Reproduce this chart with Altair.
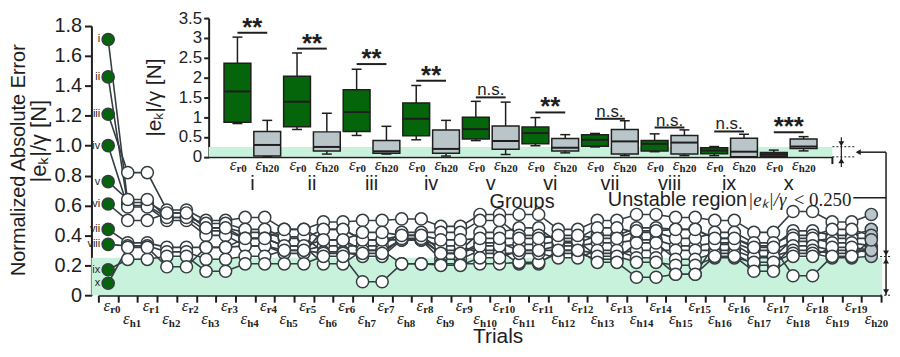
import altair as alt
import pandas as pd

# ---------------- data: main trial plot ----------------
groups = ["i", "ii", "iii", "iv", "v", "vi", "vii", "viii", "ix", "x"]
r0_values = [1.71, 1.46, 1.21, 1.00, 0.76, 0.61, 0.44, 0.34, 0.17, 0.08]

trials_i    = [0.62, 0.55, 0.45, 0.42, 0.38, 0.44, 0.37, 0.40, 0.30, 0.42, 0.45, 0.35, 0.40, 0.45, 0.44, 0.38, 0.33, 0.43, 0.40, 0.44]
trials_ii   = [0.60, 0.52, 0.43, 0.38, 0.33, 0.37, 0.30, 0.37, 0.28, 0.35, 0.30, 0.33, 0.35, 0.37, 0.33, 0.35, 0.30, 0.36, 0.38, 0.38]
trials_iii  = [0.82, 0.57, 0.50, 0.52, 0.44, 0.49, 0.50, 0.51, 0.46, 0.54, 0.54, 0.44, 0.50, 0.54, 0.52, 0.50, 0.42, 0.56, 0.49, 0.54]
trials_iv   = [0.59, 0.50, 0.40, 0.33, 0.30, 0.33, 0.33, 0.42, 0.42, 0.50, 0.40, 0.38, 0.45, 0.42, 0.38, 0.42, 0.35, 0.40, 0.44, 0.40]
trials_v    = [0.64, 0.52, 0.48, 0.44, 0.39, 0.29, 0.26, 0.37, 0.24, 0.30, 0.21, 0.30, 0.28, 0.30, 0.30, 0.30, 0.25, 0.38, 0.35, 0.33]
trials_vi   = [0.50, 0.55, 0.45, 0.38, 0.33, 0.21, 0.30, 0.21, 0.21, 0.21, 0.22, 0.28, 0.24, 0.35, 0.24, 0.28, 0.20, 0.33, 0.30, 0.29]
trials_vii  = [0.35, 0.32, 0.32, 0.33, 0.28, 0.44, 0.37, 0.37, 0.33, 0.28, 0.28, 0.25, 0.30, 0.25, 0.14, 0.34, 0.26, 0.30, 0.28, 0.31]
trials_viii = [0.33, 0.29, 0.24, 0.26, 0.30, 0.28, 0.28, 0.38, 0.28, 0.33, 0.34, 0.36, 0.26, 0.22, 0.20, 0.25, 0.22, 0.28, 0.25, 0.26]
trials_ix   = [0.24, 0.26, 0.16, 0.21, 0.21, 0.26, 0.09, 0.21, 0.20, 0.25, 0.30, 0.30, 0.22, 0.12, 0.14, 0.26, 0.16, 0.26, 0.32, 0.30]
trials_x    = [0.32, 0.19, 0.32, 0.38, 0.44, 0.37, 0.42, 0.40, 0.37, 0.38, 0.38, 0.40, 0.38, 0.43, 0.44, 0.38, 0.32, 0.13, 0.26, 0.37]

y_ticks_main = [0, 0.2, 0.4, 0.6, 0.8, 1.0, 1.2, 1.4, 1.6, 1.8]

# ---------------- data: inset box plots ----------------
r0_min = [0.84, 0.69, 0.54, 0.43, 0.41, 0.28, 0.25, 0.13, 0.03, 0.00]
r0_q1  = [0.87, 0.76, 0.64, 0.53, 0.45, 0.33, 0.27, 0.15, 0.08, 0.00]
r0_med = [1.65, 1.39, 1.13, 0.96, 0.70, 0.60, 0.43, 0.33, 0.16, 0.06]
r0_q3  = [2.36, 2.03, 1.69, 1.36, 1.00, 0.75, 0.56, 0.41, 0.23, 0.11]
r0_max = [3.02, 2.62, 2.21, 1.80, 1.40, 0.99, 0.59, 0.58, 0.26, 0.17]

h20_min = [0.00, 0.07, 0.07, 0.02, 0.06, 0.10, 0.03, 0.03, 0.00, 0.15]
h20_q1  = [0.02, 0.15, 0.09, 0.09, 0.19, 0.15, 0.07, 0.07, 0.00, 0.21]
h20_med = [0.30, 0.25, 0.14, 0.20, 0.40, 0.23, 0.39, 0.36, 0.13, 0.26]
h20_q3  = [0.64, 0.63, 0.41, 0.68, 0.78, 0.46, 0.69, 0.54, 0.47, 0.45]
h20_max = [0.92, 1.10, 0.77, 0.92, 1.38, 0.56, 0.91, 0.68, 0.57, 0.51]

sig_y    = [3.13, 2.73, 2.34, 1.92, 1.50, 1.12, 0.96, 0.74, 0.64, 0.62]
sig_text = ["**", "**", "**", "**", "n.s.", "**", "n.s.", "n.s.", "n.s.", "***"]

y_ticks_inset = [0, 0.5, 1, 1.5, 2, 2.5, 3, 3.5]
threshold = 0.25

# ---------------- styling ----------------
GREEN = "#04650b"
GREY = "#b9c5c9"
MINT = "#c9f2dd"
DARK = "#1e1e1e"
LINEC = "#343d41"
SANS = "Liberation Sans"
SERIF = "Liberation Serif"

W, H = 796, 271

# ---------------- build tables ----------------
series = dict(zip(groups, [trials_i, trials_ii, trials_iii, trials_iv, trials_v,
                           trials_vi, trials_vii, trials_viii, trials_ix, trials_x]))

slots = ["r0"]
for k in range(1, 20):
    slots += [f"h{k}", f"r{k}"]
slots += ["h20"]

rows = []
for g, r0 in zip(groups, r0_values):
    vals = series[g]
    rows.append(dict(group=g, slot="r0", idx=0, val=r0, fillc=GREEN))
    for k in range(1, 21):
        rows.append(dict(group=g, slot=f"h{k}", idx=2 * k - 1, val=vals[k - 1],
                         fillc=GREY if k == 20 else "white"))
        if k < 20:
            rows.append(dict(group=g, slot=f"r{k}", idx=2 * k, val=vals[k - 1], fillc="white"))
main_df = pd.DataFrame(rows)

lab_df = pd.DataFrame({"slot": slots, "eps": ["ε"] * len(slots), "sub": slots})
lab_df["row"] = lab_df["sub"].str[0]
lab_df["n"] = lab_df["sub"].str.len()

bslots, brows = [], []
for i, g in enumerate(groups):
    for kind, mn, q1, md, q3, mx, fc in (
        ("r0", r0_min[i], r0_q1[i], r0_med[i], r0_q3[i], r0_max[i], GREEN),
        ("h20", h20_min[i], h20_q1[i], h20_med[i], h20_q3[i], h20_max[i], GREY),
    ):
        bs = f"{g}-{kind}"
        bslots.append(bs)
        brows.append(dict(group=g, kind=kind, bslot=bs, bmin=mn, q1=q1, med=md,
                          q3=q3, bmax=mx, fillc=fc, eps="ε", sub=kind))
box_df = pd.DataFrame(brows)

sig_rows = []
for i, g in enumerate(groups):
    for kind in ("r0", "h20"):
        sig_rows.append(dict(group=g, bslot=f"{g}-{kind}", sy=sig_y[i], stext=sig_text[i], kind=kind))
sig_df = pd.DataFrame(sig_rows)

one = pd.DataFrame({"k": [0]})

# ---------------- scales / axes ----------------
xm_scale = alt.Scale(type="band", domain=slots, range=[7, 795], paddingInner=0, paddingOuter=0)
xm_axis = alt.Axis(orient="bottom", labels=False, tickBand="extent", tickSize=7, tickWidth=2,
                   tickColor=DARK, domainColor=DARK, domainWidth=2, grid=False,
                   title="Trials", titleFont=SANS, titleFontSize=21, titleFontWeight="normal",
                   titleColor=DARK, titleX=409, titleY=48, titleBaseline="alphabetic")
ym_scale = alt.Scale(domain=[0, 1.8], nice=False, zero=True)
ym_axis = alt.Axis(orient="left", values=y_ticks_main,
                   labelExpr="datum.value == 0 ? '0' : format(datum.value, '.1f')",
                   tickSize=7, tickWidth=2, tickColor=DARK, domainColor=DARK, domainWidth=2,
                   labelFont=SANS, labelFontSize=20, labelColor=DARK, labelPadding=3,
                   grid=False, title=None)

xi_scale = alt.Scale(type="band", domain=bslots, range=[118, 746], paddingInner=0, paddingOuter=0.4667)
xi_axis = alt.Axis(orient="bottom", offset=-139.3, labels=False, ticks=False, grid=False,
                   domainColor=DARK, domainWidth=2,
                   title="Groups", titleFont=SANS, titleFontSize=20, titleFontWeight="normal",
                   titleColor=DARK, titleX=433, titleY=51, titleBaseline="alphabetic")
yi_scale = alt.Scale(domain=[0, 3.5], range=[131.7, -8], nice=False, zero=True)
yi_axis = alt.Axis(orient="left", offset=-118, values=y_ticks_inset,
                   labelExpr="format(datum.value, '~g')",
                   tickSize=5, tickWidth=2, tickColor=DARK, domainColor=DARK, domainWidth=2,
                   labelFont=SANS, labelFontSize=17, labelColor=DARK, labelPadding=2,
                   grid=False, title=None)


def XM():
    return alt.X("slot:N", scale=xm_scale, axis=xm_axis)


def YM(f="val"):
    return alt.Y(f"{f}:Q", scale=ym_scale, axis=ym_axis)


def XI():
    return alt.X("bslot:N", scale=xi_scale, axis=xi_axis)


def YI(f):
    return alt.Y(f"{f}:Q", scale=yi_scale, axis=yi_axis)


# ---------------- main layers ----------------
shade_m = alt.Chart(pd.DataFrame({"val": [0.0], "val2": [threshold]})).mark_rect(color=MINT).encode(
    x=alt.value(0), x2=alt.value(W), y=YM(), y2="val2:Q")

lines = alt.Chart(main_df).mark_line(color=LINEC, strokeWidth=1.6).encode(
    x=XM(), y=YM(), detail="group:N", order="idx:Q")

points = alt.Chart(main_df).mark_circle(size=150, stroke=LINEC, strokeWidth=1.5, opacity=1).encode(
    x=XM(), y=YM(), fill=alt.Fill("fillc:N", scale=None))

glabels = alt.Chart(main_df[main_df.slot == "r0"]).mark_text(
    align="right", baseline="middle", dx=-8, font=SANS, fontSize=11, color=DARK).encode(
    x=XM(), y=YM(), text="group:N")

xlab_layers = []
for row, ye, ys in (("r", 286.7, 289.0), ("h", 300.0, 303.3)):
    for n, dx in ((2, 2), (3, 0)):
        sub = lab_df[(lab_df.row == row) & (lab_df.n == n)]
        if len(sub) == 0:
            continue
        xlab_layers.append(alt.Chart(sub).mark_text(
            align="right", baseline="alphabetic", dx=dx, font=SERIF, fontStyle="italic",
            fontSize=17, color=DARK).encode(x=XM(), y=alt.value(ye), text="eps:N"))
        xlab_layers.append(alt.Chart(sub).mark_text(
            align="left", baseline="alphabetic", dx=dx, font=SERIF, fontWeight="bold",
            fontSize=11, color=DARK).encode(x=XM(), y=alt.value(ys), text="sub:N"))


def txt(s, x, y, size=20, font=SANS, angle=0, align="center", baseline="middle", style="normal"):
    return alt.Chart(one).mark_text(text=s, font=font, fontSize=size, angle=angle, align=align,
                                    baseline=baseline, fontStyle=style, color=DARK).encode(
        x=alt.value(x), y=alt.value(y))


def rule(x1, x2, y1, y2, width=1.5, dash=None):
    kw = dict(color=DARK, strokeWidth=width)
    if dash:
        kw["strokeDash"] = dash
    return alt.Chart(one).mark_rule(**kw).encode(
        x=alt.value(x1), x2=alt.value(x2), y=alt.value(y1), y2=alt.value(y2))


def tri(shape, x, y):
    return alt.Chart(one).mark_point(shape=shape, filled=True, size=35, color=DARK, opacity=1).encode(
        x=alt.value(x), y=alt.value(y))


annot = [
    txt("Normalized Absolute Error", -73, 135, size=20, angle=270),
    txt("|eₖ|/γ [N]", -53, 116, size=22, angle=270),
    txt("|eₖ|/γ [N]", 64, 72, size=21, angle=270),
    txt("Unstable region", 660, 181, size=20, align="right", baseline="alphabetic"),
    txt("|eₖ|/γ", 661, 181, size=19, font=SERIF, align="left", baseline="alphabetic", style="italic"),
    txt("< 0.250", 707, 181, size=19, font=SERIF, align="left", baseline="alphabetic"),
    rule(767, 800, 173, 173),
    rule(800, 800, 127, 271),
    rule(771, 800, 127, 127),
    tri("triangle-left", 772, 127),
    tri("triangle-down", 800, 228.5),
    tri("triangle-up", 800, 236.5),
    tri("triangle-down", 800, 267.5),
    rule(794, 808, 232, 232, 1, [2, 2]),
    rule(794, 808, 271, 271, 1, [2, 2]),
    rule(755, 755, 112, 142, 1.2),
    tri("triangle-down", 755, 118.5),
    tri("triangle-up", 755, 135.5),
    rule(746, 768, 121.5, 121.5, 1, [2, 2]),
    rule(746, 768, 131.7, 131.7, 1, [2, 2]),
    rule(746, 746, 131.7, 139, 2),
]

main_layer = alt.layer(shade_m, lines, points, glabels, *xlab_layers, *annot)

# ---------------- inset layers ----------------
shade_i = alt.Chart(pd.DataFrame({"v": [0.0], "v2": [threshold]})).mark_rect(color=MINT).encode(
    x=alt.value(118), x2=alt.value(746), y=YI("v"), y2="v2:Q")

whisk = alt.Chart(box_df).mark_rule(color=DARK, strokeWidth=1.5).encode(
    x=XI(), y=YI("bmin"), y2="bmax:Q")
boxes = alt.Chart(box_df).mark_bar(size=27, stroke=DARK, strokeWidth=1.5, opacity=1).encode(
    x=XI(), y=YI("q1"), y2="q3:Q", fill=alt.Fill("fillc:N", scale=None))
meds = alt.Chart(box_df).mark_tick(size=27, thickness=2, color=DARK, opacity=1).encode(
    x=XI(), y=YI("med"))
cap_lo = alt.Chart(box_df).mark_tick(size=10, thickness=1.5, color=DARK, opacity=1).encode(
    x=XI(), y=YI("bmin"))
cap_hi = alt.Chart(box_df).mark_tick(size=10, thickness=1.5, color=DARK, opacity=1).encode(
    x=XI(), y=YI("bmax"))

sig_lines = alt.Chart(sig_df).mark_line(color=DARK, strokeWidth=2).encode(
    x=XI(), y=YI("sy"), detail="group:N")
sig_first = sig_df[sig_df.kind == "r0"]
sig_stars = alt.Chart(sig_first[sig_first.stext != "n.s."]).mark_text(
    dx=15, dy=3, font=SANS, fontSize=26, fontWeight="bold", baseline="alphabetic", color=DARK).encode(
    x=XI(), y=YI("sy"), text="stext:N")
sig_ns = alt.Chart(sig_first[sig_first.stext == "n.s."]).mark_text(
    dx=15, dy=-2, font=SANS, fontSize=17, baseline="alphabetic", color=DARK).encode(
    x=XI(), y=YI("sy"), text="stext:N")

ilab_layers = []
for kind, dx in (("r0", -1), ("h20", -5)):
    sub = box_df[box_df.kind == kind]
    ilab_layers.append(alt.Chart(sub).mark_text(
        align="right", baseline="alphabetic", dx=dx, font=SERIF, fontStyle="italic",
        fontSize=17, color=DARK).encode(x=XI(), y=alt.value(145), text="eps:N"))
    ilab_layers.append(alt.Chart(sub).mark_text(
        align="left", baseline="alphabetic", dx=dx, font=SERIF, fontWeight="bold",
        fontSize=11, color=DARK).encode(x=XI(), y=alt.value(146.7), text="sub:N"))

gnum = alt.Chart(box_df[box_df.kind == "r0"]).mark_text(
    dx=15, font=SANS, fontSize=20, baseline="alphabetic", color=DARK).encode(
    x=XI(), y=alt.value(165), text="group:N")

inset_layer = alt.layer(shade_i, whisk, boxes, meds, cap_lo, cap_hi, sig_lines, sig_stars, sig_ns,
                        *ilab_layers, gnum)

chart = alt.layer(main_layer, inset_layer).resolve_scale(
    x="independent", y="independent"
).properties(
    width=W, height=H,
    padding={"left": 84, "top": 17, "right": 10, "bottom": 53},
    autosize=alt.AutoSizeParams(type="none"),
    background="white",
).configure_view(stroke=None)

chart.save("out.html", embed_options={"renderer": "svg", "actions": False})
